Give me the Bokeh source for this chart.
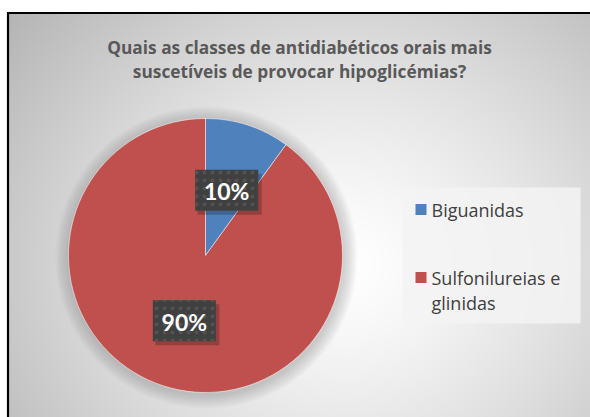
import numpy as np
from bokeh.plotting import figure
from bokeh.models import Range1d
from bokeh.core.properties import value
from bokeh.embed import file_html
from bokeh.resources import INLINE

# ---- data ----
title_lines = ["Quais as classes de antidiabéticos orais mais",
               "suscetíveis de provocar hipoglicémias?"]
categories = ["Biguanidas", "Sulfonilureias e glinidas"]
legend_lines = [["Biguanidas"], ["Sulfonilureias e", "glinidas"]]
values = [10, 90]
colors = ["#4F81BD", "#C0504D"]

W, H = 590, 417


def Y(py):
    return -py


p = figure(width=W, height=H, output_backend="svg", toolbar_location=None,
           x_range=Range1d(0, W), y_range=Range1d(-H, 0), min_border=0)
p.axis.visible = False
p.grid.visible = False
p.outline_line_color = None
p.background_fill_color = "white"
p.border_fill_color = "white"

# ---- background radial gradient (style) ----
xs = np.arange(W) + 0.5
ys = H - np.arange(H) - 0.5
gx, gy = np.meshgrid(xs, ys)
cx, cy = 345, 265
t = np.sqrt(((gx - cx) / 330.0) ** 2 + ((gy - cy) / 300.0) ** 2)
t = np.clip(t, 0, 1.3)
g = (255 - 52 * t ** 1.3).clip(0, 255).astype(np.uint32)
img = np.empty((H, W), dtype=np.uint32)
view = img.view(dtype=np.uint8).reshape((H, W, 4))
view[:, :, 0] = g
view[:, :, 1] = g
view[:, :, 2] = g
view[:, :, 3] = 255
view[(gy < 12) | (gx < 7)] = [255, 255, 255, 255]
p.image_rgba(image=[img], x=0, y=-H, dw=W, dh=H)

# border (top and left)
p.line(x=[6.5, 590], y=[Y(12.5), Y(12.5)], line_color="black", line_width=2.2)
p.line(x=[7.5, 7.5], y=[Y(11.5), Y(417)], line_color="black", line_width=2.2)

# ---- title ----
for i, line in enumerate(title_lines):
    p.text(x=[299], y=[Y(47 + 24 * i)], text=[line], text_align="center",
           text_baseline="middle", text_font=value("Open Sans"),
           text_font_style="bold", text_font_size="17.3px", text_color="#595959")

# ---- pie ----
pcx, pcy, r = 205, 255, 137
# soft shadow
for k in range(10):
    p.circle(x=[pcx + 1], y=[Y(pcy + 2)], radius=r + 14 - k * 1.4,
             fill_color="#7a7a7a", fill_alpha=0.035, line_color=None)

total = float(sum(values))
fr = np.array(values) / total
cum = np.concatenate([[0], np.cumsum(fr)])
starts = np.pi / 2 - cum[:-1] * 2 * np.pi
ends = np.pi / 2 - cum[1:] * 2 * np.pi
p.wedge(x=pcx, y=Y(pcy), radius=r, start_angle=list(starts), end_angle=list(ends),
        direction="clock", fill_color=colors, line_color="white", line_alpha=0.5,
        line_width=1)

# data labels
mids = (cum[:-1] + cum[1:]) / 2 * 2 * np.pi
for v, m in zip(values, mids):
    lx = pcx + 0.5 * r * np.sin(m)
    ly = pcy - 0.5 * r * np.cos(m)
    p.rect(x=[lx + 3], y=[Y(ly + 4)], width=64, height=41, fill_color="#000000",
           fill_alpha=0.22, line_color=None)
    p.rect(x=[lx], y=[Y(ly)], width=63, height=41, fill_color="#404040",
           line_color=None, hatch_pattern="dot", hatch_color="#525252",
           hatch_scale=8, hatch_weight=1)
    p.text(x=[lx], y=[Y(ly + 1)], text=[f"{v}%"], text_align="center",
           text_baseline="middle", text_font=value("Lato"), text_font_style="bold",
           text_font_size="23px", text_color="white")

# ---- legend ----
p.quad(left=402, right=580, top=Y(187), bottom=Y(323), fill_color="#f3f3f3",
       fill_alpha=0.85, line_color=None)
leg_y = [209, 277]
for c, lines, ly in zip(colors, legend_lines, leg_y):
    p.rect(x=[420.5], y=[Y(ly)], width=11, height=11, fill_color=c, line_color=None)
    for j, s in enumerate(lines):
        p.text(x=[431], y=[Y(ly + 25 * j)], text=[s], text_align="left",
               text_baseline="middle", text_font=value("Open Sans"),
               text_font_size="18px", text_color="#404040")

open("out.html", "w").write(file_html(p, INLINE))
